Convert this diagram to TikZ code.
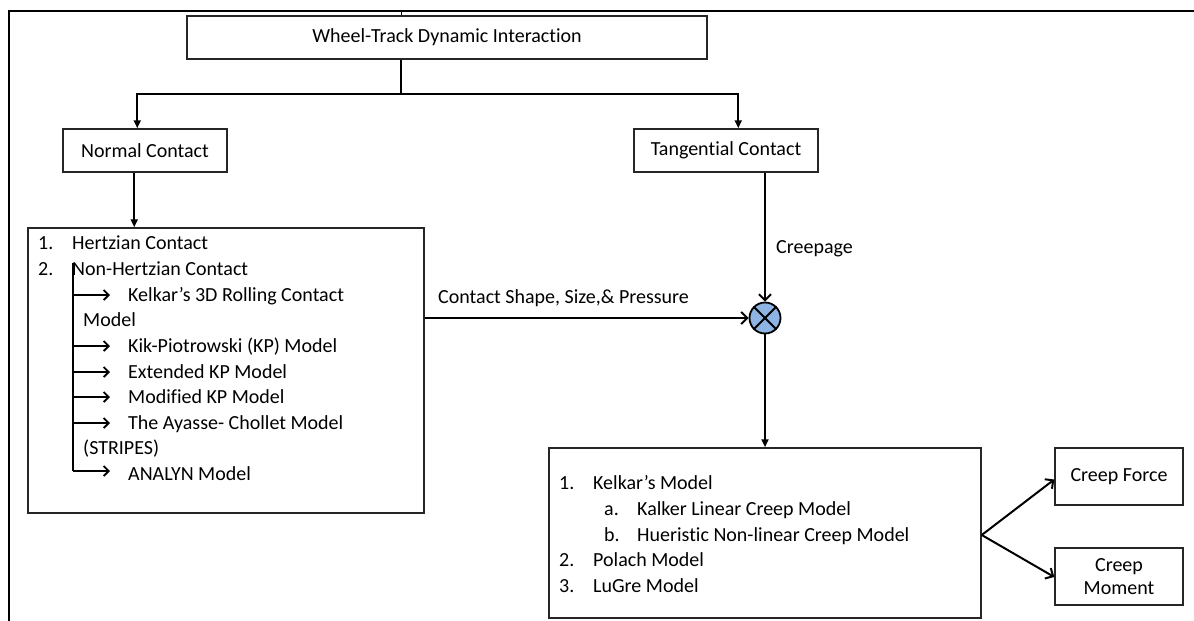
\documentclass[tikz,border=0pt]{standalone}
\usepackage{fontspec}
\setmainfont{Carlito}[Ligatures=NoCommon]
\usetikzlibrary{arrows.meta,calc}
\tikzset{
  box/.style={draw=black!85, line width=1.5pt, rectangle, inner sep=0pt, fill=white},
  link/.style={line width=2pt, draw=black},
  barb/.style={link, -{Straight Barb[length=6pt,width=12pt,line width=2pt]}},
  tip/.style={link, -{Triangle[length=8pt,width=7pt]}},
  txt/.style={inner sep=0pt, anchor=base west, font=\fontsize{20}{23}\selectfont},
  ctxt/.style={font=\fontsize{20}{23}\selectfont, align=center},
  listarrow/.style={line width=1.8pt, -{Straight Barb[length=5pt,width=10pt,line width=1.8pt]}},
}
\begin{document}
\begin{tikzpicture}[x=1pt,y=-1pt]
\useasboundingbox (0,0) rectangle (1194,621);
% frame edges
\draw[line width=2.5pt] (9,621) -- (9,11) -- (1194,11);

% boxes
\node[box, ctxt, minimum width=520, minimum height=43] (title) at (447,37.5) {Wheel-Track Dynamic Interaction};
\node[box, ctxt, minimum width=164, minimum height=43] (normal) at (145,150.5) {Normal Contact};
\node[box, ctxt, minimum width=184, minimum height=43] (tang) at (726,150.5) {Tangential Contact};
\node[box, minimum width=396, minimum height=285] (left) at (226,370.5) {};
\node[box, minimum width=432, minimum height=170] (models) at (765,533) {};
\node[box, ctxt, minimum width=128, minimum height=57] (force) at (1119,476.5) {Creep Force};
\node[box, ctxt, minimum width=128, minimum height=57] (moment) at (1119,576.5) {Creep\\Moment};
\node[circle, draw=black, line width=1.8pt, fill={rgb,255:red,141;green,180;blue,226}, minimum size=31, inner sep=0pt] (mul) at (765,318) {};
\draw[line width=1.8pt] (mul.north west) -- (mul.south east) (mul.north east) -- (mul.south west);

% tick above the title box
\draw[line width=1pt] (401,11) -- (title.north -| 401,0);

% split from the title box
\coordinate (split) at (401,94);
\coordinate (nIn) at ($(normal.north west)+(75,0)$);
\coordinate (tIn) at ($(tang.north west)+(105,0)$);
\draw[link] (title.south -| split) -- (split);
\draw[tip] (split) -| (nIn);
\draw[tip] (split) -| (tIn);

% normal contact to its list
\coordinate (nOut) at ($(normal.south west)+(72,0)$);
\draw[tip] (nOut) -- (nOut |- left.north);

% creepage into the multiplier
\draw[barb] (tang.south -| mul) -- (mul.north);
\node[txt] (creeplbl) at (776,253) {Creepage};

% contact shape into the multiplier
\draw[barb] (left.east |- mul) -- (mul.west);
\node[txt] (shapelbl) at (438,303) {Contact Shape, Size,\& Pressure};

% multiplier to the creep models
\draw[tip] (mul.south) -- (models.north);

% creep models to outputs
\coordinate (mOut) at ($(models.east)+(0,2)$);
\draw[barb] (mOut) -- ($(force.west)+(0,3)$);
\draw[barb] (mOut) -- ($(moment.west)+(0,0.5)$);

% list of normal contact models
\node[txt] (n1) at (38,249) {1.};
\node[txt] (h1) at (72,249) {Hertzian Contact};
\node[txt] (n2) at (38,275) {2.};
\node[txt] (h2) at (72,275) {Non-Hertzian Contact};
\node[txt] (k1) at (128,301) {Kelkar’s 3D Rolling Contact};
\node[txt] (k2) at (83,326) {Model};
\node[txt] (k3) at (128,352) {Kik-Piotrowski (KP) Model};
\node[txt] (k4) at (128,378) {Extended KP Model};
\node[txt] (k5) at (128,403) {Modified KP Model};
\node[txt] (k6) at (128,429) {The Ayasse- Chollet Model};
\node[txt] (k7) at (83,454) {(STRIPES)};
\node[txt] (k8) at (128,480) {ANALYN Model};

\coordinate (bartop) at (73,263);
\coordinate (barend) at (73,471);
\draw[line width=1.8pt] (bartop) -- (barend);
\foreach \y in {295,346,372,397,423} {
  \draw[listarrow] (73,\y) -- (110,\y);
}
\draw[listarrow] (barend) -- (110,471);

% list of creep models
\node[txt] (m1n) at (559,489) {1.};
\node[txt] (m1) at (593,489) {Kelkar’s Model};
\node[txt] (m1an) at (604,515) {a.};
\node[txt] (m1a) at (637,515) {Kalker Linear Creep Model};
\node[txt] (m1bn) at (604,541) {b.};
\node[txt] (m1b) at (637,541) {Hueristic Non-linear Creep Model};
\node[txt] (m2n) at (559,566) {2.};
\node[txt] (m2) at (593,566) {Polach Model};
\node[txt] (m3n) at (559,592) {3.};
\node[txt] (m3) at (593,592) {LuGre Model};
\end{tikzpicture}
\end{document}
